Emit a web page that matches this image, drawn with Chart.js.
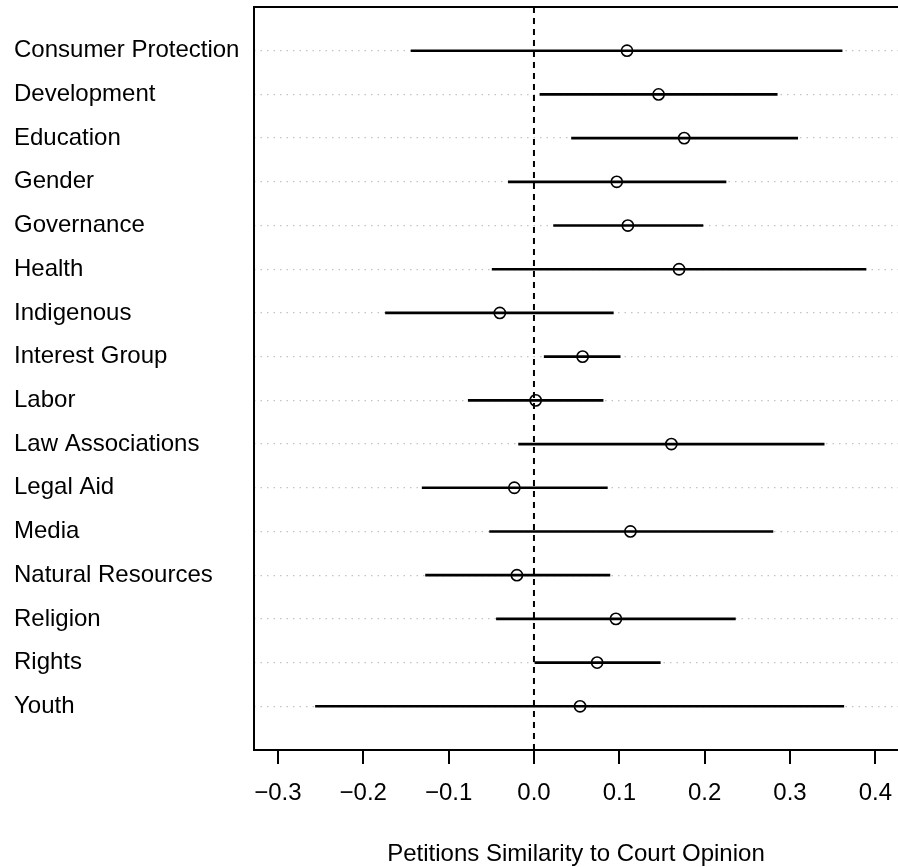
<!DOCTYPE html>
<html>
<head>
<meta charset="utf-8">
<script src="https://cdn.jsdelivr.net/npm/chart.js@4"></script>
<style>
  html, body { margin: 0; padding: 0; background: #fff; }
  canvas { display: block; }
</style>
</head>
<body>
<canvas id="chart" width="898" height="867"></canvas>
<script>
// Petition groups, top to bottom
const categories = [
  "Consumer Protection", "Development", "Education", "Gender", "Governance",
  "Health", "Indigenous", "Interest Group", "Labor", "Law Associations",
  "Legal Aid", "Media", "Natural Resources", "Religion", "Rights", "Youth"
];
// Point estimates and interval bounds for each group
const estimate = [0.109, 0.146, 0.176, 0.097, 0.110, 0.170, -0.040, 0.057, 0.002, 0.161, -0.023, 0.113, -0.020, 0.096, 0.074, 0.054];
const lower    = [-0.144, 0.007, 0.044, -0.030, 0.023, -0.049, -0.174, 0.012, -0.077, -0.018, -0.131, -0.052, -0.127, -0.044, 0.000, -0.256];
const upper    = [0.361, 0.285, 0.309, 0.225, 0.198, 0.389, 0.093, 0.101, 0.081, 0.340, 0.086, 0.280, 0.089, 0.236, 0.148, 0.363];
// Axis ticks and label text
const xTickValues = [-0.3, -0.2, -0.1, 0.0, 0.1, 0.2, 0.3, 0.4];
const xTitle = "Petitions Similarity to Court Opinion";
const referenceValue = 0;

const FONT = "'Liberation Sans', Arial, Helvetica, sans-serif";
const rowOf = i => i + 1;               // row 1 at the top
const rowCount = categories.length;

// Frame: left and top edges of the plotting box
const framePlugin = {
  id: 'frame',
  afterDraw(chart) {
    const { ctx, chartArea: a } = chart;
    ctx.save();
    ctx.strokeStyle = '#000';
    ctx.lineWidth = 2;
    ctx.beginPath();
    ctx.moveTo(a.left, a.bottom);
    ctx.lineTo(a.left, a.top);
    ctx.lineTo(a.right + 2, a.top);
    ctx.stroke();
    ctx.restore();
  }
};

new Chart(document.getElementById('chart'), {
  type: 'scatter',
  data: {
    datasets: [
      {
        label: 'estimate',
        data: categories.map((c, i) => ({ x: estimate[i], y: rowOf(i) })),
        pointStyle: 'circle',
        pointRadius: 5.6,
        pointBorderWidth: 1.6,
        pointBorderColor: '#000',
        pointBackgroundColor: 'rgba(0,0,0,0)',
        showLine: false,
        order: 0
      },
      {
        type: 'bar',
        label: 'interval',
        indexAxis: 'y',
        data: categories.map((c, i) => ({ x: [lower[i], upper[i]], y: rowOf(i) })),
        backgroundColor: '#000',
        borderWidth: 0,
        barThickness: 2,
        order: 1
      },
      {
        label: 'zero',
        data: [{ x: referenceValue, y: 0 }, { x: referenceValue, y: rowCount + 1 }],
        showLine: true,
        borderColor: '#000',
        borderWidth: 2,
        borderDash: [6, 5],
        pointRadius: 0,
        order: 2
      }
    ]
  },
  options: {
    responsive: false,
    animation: false,
    events: [],
    layout: { autoPadding: false, padding: { left: 14, right: 0, top: 7, bottom: 0 } },
    plugins: { legend: { display: false }, tooltip: { enabled: false } },
    scales: {
      x: {
        type: 'linear',
        position: 'bottom',
        offset: false,
        min: -0.328,
        max: 0.4265,
        afterBuildTicks: s => { s.ticks = xTickValues.map(v => ({ value: v })); },
        afterFit: s => { s.height = 117; s.paddingLeft = 0; s.paddingRight = 0; },
        ticks: {
          autoSkip: false,
          maxRotation: 0,
          padding: 0,
          color: '#000',
          font: { family: FONT, size: 24, lineHeight: 2.45 },
          callback: v => Number(v).toFixed(1).replace('-', '\u2212')
        },
        grid: {
          offset: false,
          drawOnChartArea: false,
          drawTicks: true,
          tickLength: 14,
          tickWidth: 2,
          tickColor: '#000',
          color: '#000',
          lineWidth: 2
        },
        border: { display: true, color: '#000', width: 2 },
        title: {
          display: true,
          text: xTitle,
          color: '#000',
          font: { family: FONT, size: 24, lineHeight: 1 },
          padding: { top: 0, bottom: 1 }
        }
      },
      y: {
        type: 'linear',
        reverse: true,
        offset: false,
        min: 0,
        max: rowCount + 1,
        afterBuildTicks: s => { s.ticks = categories.map((c, i) => ({ value: rowOf(i) })); },
        afterFit: s => { s.width = 240; s.paddingTop = 0; s.paddingBottom = 0; },
        ticks: {
          autoSkip: false,
          crossAlign: 'far',
          padding: 0,
          color: '#000',
          font: { family: FONT, size: 24 },
          callback: v => categories[v - 1] ?? ''
        },
        grid: {
          offset: false,
          drawOnChartArea: true,
          drawTicks: false,
          color: '#c4c4c4',
          lineWidth: 1.3
        },
        border: { display: false, dash: [1.5, 5] }
      }
    }
  },
  plugins: [framePlugin]
});
</script>
</body>
</html>
